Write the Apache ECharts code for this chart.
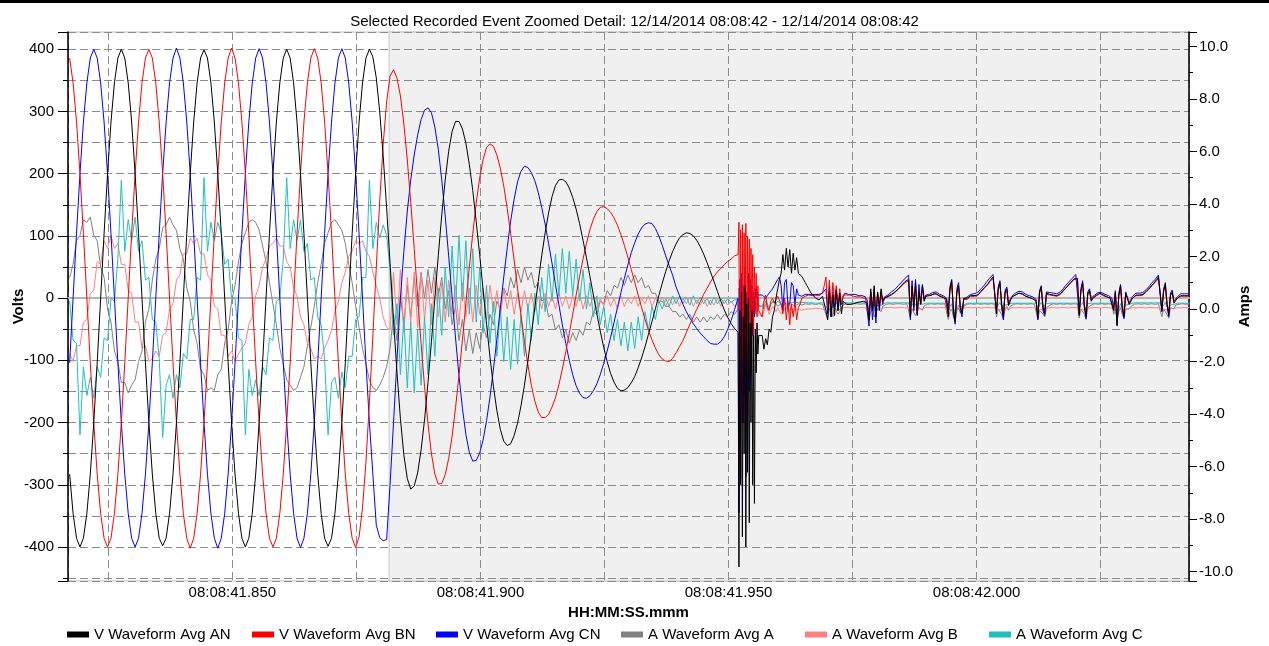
<!DOCTYPE html>
<html><head><meta charset="utf-8">
<script src="https://cdn.jsdelivr.net/npm/echarts@6/dist/echarts.min.js"></script>
<style>html,body{margin:0;padding:0;background:#fff}#chart{width:1269px;height:646px}</style>
</head><body><div id="chart"></div>
<script>
const titleText = 'Selected Recorded Event Zoomed Detail: 12/14/2014 08:08:42 - 12/14/2014 08:08:42';
const seriesNames = ['V Waveform Avg AN','V Waveform Avg BN','V Waveform Avg CN','A Waveform Avg A','A Waveform Avg B','A Waveform Avg C'];
// sample times: ms after 08:08:41.800; first sample, then [count, step ms] runs
const sampleStartMs = 17.21;
const stepPlan = [[194, 0.6944], [24, 0.1736], [1, 0.6944], [248, 0.3472]];
const axisMinMs = 16.88, axisMaxMs = 242.8;
const shadeStartMs = 81.6;
const voltsMin = -454.7, voltsMax = 427.8;
const ampsMin = -10.36, ampsMax = 10.55;

const vAN = [-283,-346,-386,-400,-386,-346,-283,-200,-104,0,104,200,283,346,386,400,386,346,283,200,104,0,-104,-200,
-283,-346,-386,-398,-386,-346,-283,-200,-104,0,104,200,283,346,386,399,386,346,283,200,104,0,-104,-200,
-283,-346,-386,-400,-386,-346,-283,-200,-104,0,104,200,283,346,386,400,386,346,283,200,104,0,-104,-200,
-283,-346,-386,-399,-386,-346,-283,-200,-104,0,104,200,283,346,386,400,
388,354,299,229,145,56,-35,-119,-194,-252,-290,-307,
-302,-281,-244,-196,-136,-70,0,69,134,190,236,268,284,
284,272,249,215,173,123,70,13,-42,-95,-142,-181,-211,-230,-237,
-234,-221,-201,-173,-140,-101,-59,-16,27,68,105,137,163,181,190,
191,187,177,162,143,120,93,65,35,5,-25,-53,-79,-102,-121,-135,-145,-149,
-148,-144,-136,-126,-112,-96,-78,-58,-38,-17,4,24,43,60,75,87,97,102,105,
104,100,93,83,71,57,42,27,11,-5,-19,-31,-41,-49,
-55,-432,-20,-300,10,-384,-30,-250,20,-400,-10,-280,0,-361,-40,-200,-20,-300,-60,-330,-50,-120,-40,-90,-60,
-60,-82,-65,-75,-50,-55,-30,-20,0,15,30,40,70,45,80,50,78,40,72,45,65,40,38,35,30,25,20,15,10,6,3,0,-2,-3,0,3,5,
-20,-35,10,-30,5,-28,12,-20,8,-25,-5,-8,
-10,-9,-10,-8,-9,-8,-7,-8,-6,-6,-5,-5,-8,
-35,15,-20,20,-30,10,-15,15,-5,0,
2,3,5,6,8,10,12,15,18,21,24,27,29,30,
-30,20,-15,25,-28,10,-10,20,-5,3,
5,4,3,6,8,7,4,3,2,1,0,-2,
-30,15,28,-20,-38,10,20,-15,-25,0,
-3,0,2,4,5,4,3,5,8,11,14,17,20,23,27,30,34,32,
-25,15,25,-10,-30,10,15,-12,-5,2,
3,5,6,8,9,7,5,3,2,1,0,-1,-3,-5,
-32,10,18,-15,-25,8,5,6,
8,5,3,4,5,7,10,13,16,19,22,25,28,31,34,32,
-28,12,25,-12,-30,8,12,-5,
0,2,4,6,8,6,5,3,2,1,0,-3,
-20,10,-43,5,20,-15,-30,8,10,-10,-8,0,
3,5,6,5,4,6,8,11,14,17,20,23,26,30,34,32,
-20,12,22,-10,-27,5,10,-8,-5,0,
2,4,5,4,3,4,5];

const vBN = [386,346,283,200,104,0,-104,-200,-283,-346,-386,-400,-386,-346,-283,-200,-104,0,104,200,283,346,386,400,
386,346,283,200,104,0,-104,-200,-283,-346,-386,-402,-386,-346,-283,-200,-104,0,104,200,283,346,386,402,
386,346,283,200,104,0,-104,-200,-283,-346,-386,-400,-386,-346,-283,-200,-104,0,104,200,283,346,386,401,
386,346,283,200,104,0,-104,-200,-283,-346,-386,-401,
-384,-337,-263,-168,-61,50,156,247,316,357,
367,354,325,280,222,154,80,3,-73,-142,-202,-250,-283,-299,
-298,-284,-258,-222,-176,-124,-67,-8,50,104,153,193,223,242,
248,244,230,209,180,144,104,61,16,-28,-70,-107,-140,-165,-183,-192,
-192,-187,-175,-160,-139,-114,-86,-57,-26,5,35,63,88,110,127,139,146,
147,144,138,129,117,102,85,66,46,26,5,-15,-34,-52,-67,-80,-91,-98,-101,
-102,-97,-88,-78,-68,-55,-42,-30,-18,-6,6,16,26,35,42,48,54,59,63,68,
70,122,-280,110,-150,118,-200,105,-100,120,-180,100,-60,95,-120,80,-40,70,-60,50,-20,40,-30,20,-20,
-30,-5,5,-15,-20,-5,0,-8,-5,3,5,-10,-25,0,-35,-5,-43,-10,-30,-5,-35,-15,-10,0,2,3,4,5,5,4,5,4,5,4,3,8,20,
34,-15,29,-19,25,-5,20,-10,15,-8,5,8,
5,3,5,4,3,5,2,3,2,1,0,0,-2,
-30,10,-15,15,-25,8,-12,10,-8,0,
0,2,4,5,7,9,11,14,17,20,23,25,28,28,
-25,15,-12,20,-22,8,-8,15,-3,2,
6,5,4,5,8,6,5,3,3,2,0,-1,
-25,12,22,-15,-30,8,18,-12,-20,-2,
-5,-2,0,3,4,3,3,4,7,10,13,16,19,22,26,29,32,30,
-20,12,22,-8,-25,8,12,-10,-3,2,
4,5,7,8,8,6,4,3,2,1,0,-1,-2,-4,
-28,8,15,-12,-20,6,3,5,
6,4,2,3,4,6,9,12,15,18,21,24,27,30,32,30,
-25,10,22,-10,-25,6,10,-3,
2,3,5,7,7,5,4,3,2,1,0,-2,
-18,8,-38,4,18,-12,-25,6,8,-6,-6,0,
2,4,5,4,3,5,7,10,13,16,19,22,25,28,32,30,
-18,10,20,-8,-22,4,8,-5,-3,0,
2,3,4,3,3,3,4];

const vCN = [-104,0,104,200,283,346,386,400,386,346,283,200,104,0,-104,-200,-283,-346,-386,-400,-386,-346,-283,-200,
-104,0,104,200,283,346,386,402,386,346,283,200,104,0,-104,-200,-283,-346,-386,-402,-386,-346,-283,-200,
-104,0,104,200,283,346,386,401,386,346,283,200,104,0,-104,-200,-283,-346,-386,-401,-386,-346,-283,-200,
-104,0,104,200,283,346,386,401,386,346,283,200,104,0,-104,-200,-283,
-365,-385,-390,-388,
-300,-200,-100,0,75,140,190,230,262,287,302,306,
298,275,239,190,132,68,2,-64,-125,-177,-219,-248,-262,
-261,-249,-228,-197,-159,-114,-66,-16,34,81,124,159,187,204,212,
210,202,189,170,146,119,88,56,22,-11,-43,-73,-100,-123,-141,-153,-160,
-161,-157,-149,-138,-123,-105,-85,-63,-39,-15,9,32,53,73,89,103,113,119,121,
120,112,100,85,68,52,37,18,4,-10,-22,-32,-41,-49,-56,-62,-68,-73,-74,-74,-70,-62,-50,-36,-18,
0,-345,30,-290,40,-200,20,-100,50,-287,10,-250,40,-150,30,-100,20,-60,10,-30,15,0,10,5,5,
5,2,0,4,8,10,15,20,25,30,34,20,-20,25,30,-15,-10,25,20,-10,15,5,5,3,5,6,5,6,5,6,5,6,7,6,7,8,10,
15,-25,20,-30,10,-15,15,-20,5,-10,2,8,
8,6,7,6,5,6,5,4,5,4,3,2,0,
-45,10,-35,5,-40,8,-20,10,-10,2,
3,5,8,10,12,14,17,20,23,26,29,32,35,37,
-35,28,-20,30,-25,22,-10,22,0,5,
8,6,6,9,11,10,7,6,5,4,2,0,
-20,18,30,-25,-42,15,25,-20,-30,-2,
-2,2,4,6,8,7,7,9,12,15,18,21,25,28,32,35,38,36,
-22,18,28,-15,-35,12,18,-10,-2,3,
6,8,9,11,12,10,8,6,5,4,3,2,0,-2,
-35,12,20,-20,-28,10,8,9,
10,8,6,7,8,10,13,16,20,23,26,29,32,35,38,36,
-25,15,28,-15,-33,10,15,0,
3,5,7,9,11,9,8,6,5,4,3,0,
-15,12,-45,8,22,-18,-33,10,12,-8,-5,3,
6,8,9,8,7,9,11,14,17,20,24,27,30,33,37,35,
-22,14,25,-12,-30,8,13,-5,-3,2,
5,7,8,7,6,7,8];

const aA = [1.2,1.7,2.6,2.8,3.4,3.3,3.5,2.8,2.6,1.6,1.2,0.0,-0.5,-1.6,-2.0,-2.8,-2.8,-3.2,-2.9,-2.7,-2.0,-1.6,-0.5,0.0,
1.1,1.9,2.3,3.1,3.2,3.5,3.2,3.0,2.3,1.9,0.8,0.3,-0.8,-1.3,-2.3,-2.5,-3.1,-3.0,-3.1,-2.5,-2.3,-1.3,-0.8,0.3,
0.9,1.8,2.5,2.9,3.3,3.4,3.3,3.0,2.4,1.8,1.0,0.2,-0.6,-1.5,-2.1,-2.7,-2.9,-3.1,-3.0,-2.6,-2.2,-1.4,-0.7,0.1,
1.0,1.7,2.5,2.9,3.3,3.4,3.2,3.0,2.5,1.7,1.0,0.1,-0.7,-1.5,-2.1,-2.7,-3.0,-3.1,-2.9,-2.6,-2.2,
-1.5,-0.2,-1.2,0.5,-0.6,0.9,-0.3,
1.2,0.1,1.4,0.4,1.5,0.6,1.6,0.5,1.2,0.0,
0.7,-0.6,0.1,-1.2,-0.4,-1.6,-0.8,-1.7,-0.9,-1.5,
-0.6,-1.1,-0.2,-0.6,0.3,0.0,0.8,0.5,1.2,0.8,
1.5,1.0,1.6,1.1,1.4,0.8,1.0,0.3,0.4,-0.3,
-0.2,-0.8,-0.6,-1.1,-0.8,-1.3,-0.9,-1.2,-0.8,-1.0,
-0.5,-0.6,-0.1,-0.2,0.3,0.2,0.7,0.5,0.9,0.8,
1.2,0.9,1.3,1.0,1.3,1.0,1.2,0.8,0.9,0.6,
0.6,0.3,0.3,0.1,0.1,-0.1,-0.1,-0.3,-0.2,-0.4,
-0.2,-0.5,-0.3,-0.5,-0.3,-0.5,-0.3,-0.4,-0.2,-0.4,
-0.2,-0.3,-0.1,-0.2,
0.0,0.8,-1.0,0.6,-1.2,0.5,-0.8,0.7,-0.9,0.4,-0.6,0.5,-0.7,0.3,-0.5,0.4,-0.4,0.3,-0.3,0.25,-0.2,0.2,-0.1,0.15,0.1,
0.1,0.0,0.3,0.1,0.0,0.2,0.2,0.3,0.25,0.1,0.15,0.2,0.0,0.25,0.3,0.1,-0.1,0.2,0.2,0.1,0.1,0.2,0.2,0.15,0.15,0.2,0.2,0.18,0.18,0.2,0.2,0.17,0.17,0.2,0.2,0.18,0.18,
-0.2,-0.4,0.0,0.1,-0.3,0.05,0.0,-0.2,-0.1,0.05,0.15,0.18,
0.2,0.18,0.18,0.2,0.2,0.18,0.2,0.18,0.18,0.2,0.2,0.18,0.18,
-0.45,-0.1,0.0,-0.3,-0.35,0.0,0.05,-0.1,0.1,0.15,
0.18,0.2,0.2,0.18,0.18,0.2,0.2,0.2,0.2,0.18,0.18,0.2,0.2,0.18,
-0.35,0.0,0.05,-0.25,-0.3,0.05,0.1,-0.05,0.12,0.15,
0.18,0.2,0.2,0.18,0.18,0.2,0.2,0.18,0.18,0.2,0.2,0.18,
-0.4,-0.1,0.0,-0.3,-0.45,-0.05,0.05,-0.15,-0.2,0.1,
0.15,0.18,0.18,0.2,0.2,0.18,0.18,0.2,0.2,0.18,0.18,0.2,0.2,0.18,0.18,0.2,0.2,0.18,
-0.3,0.0,0.05,-0.2,-0.4,0.0,0.1,-0.05,0.1,0.15,
0.18,0.2,0.2,0.18,0.18,0.2,0.2,0.18,0.18,0.2,0.2,0.18,0.18,0.2,
-0.4,-0.05,0.0,-0.2,-0.3,0.05,0.1,0.15,
0.18,0.2,0.2,0.18,0.18,0.2,0.2,0.18,0.18,0.2,0.2,0.18,0.18,0.2,0.2,0.18,
-0.35,0.0,0.05,-0.2,-0.4,0.05,0.1,0.15,
0.18,0.2,0.2,0.18,0.18,0.2,0.2,0.18,0.18,0.2,0.2,0.18,
-0.2,0.0,-0.45,-0.1,0.05,-0.2,-0.35,0.0,0.05,0.0,0.1,0.15,
0.18,0.2,0.2,0.18,0.18,0.2,0.2,0.18,0.18,0.2,0.2,0.18,0.18,0.2,0.2,0.18,
-0.3,0.0,0.05,-0.2,-0.35,0.05,0.1,0.0,0.15,0.18,
0.18,0.2,0.2,0.18,0.18,0.2,0.2];

const aB = [-1.7,-2.0,-1.4,-1.4,-0.5,-0.4,0.6,0.7,1.8,1.7,2.6,2.3,2.8,2.3,2.5,1.7,1.7,0.7,0.6,-0.5,-0.5,-1.5,-1.4,-2.0,
-1.9,-1.6,-1.8,-1.0,-0.9,0.0,0.2,1.1,1.3,2.1,2.1,2.7,2.5,2.7,2.1,2.1,1.3,1.1,0.1,0.0,-1.0,-1.0,-1.8,-1.6,
-2.0,-1.7,-1.5,-1.3,-0.6,-0.3,0.5,0.9,1.6,1.9,2.4,2.5,2.7,2.4,2.4,1.8,1.6,0.8,0.5,-0.3,-0.6,-1.3,-1.5,-1.9,
-1.8,-1.9,-1.5,-1.2,-0.8,-0.1,0.3,1.0,1.4,2.0,2.2,2.6,2.5,2.6,2.2,2.0,1.4,0.9,0.4,-0.3,-0.7,
-0.8,1.4,-0.6,1.5,-0.9,1.2,-0.5,
1.4,-0.7,1.3,-0.4,1.1,-0.6,1.2,-0.3,1.0,-0.5,
1.1,-0.2,0.9,-0.6,1.0,-0.3,0.8,-0.5,0.9,-0.2,
0.8,-0.4,0.9,-0.1,0.7,-0.3,0.8,0.0,0.7,-0.2,
0.6,-0.1,0.7,0.0,0.6,-0.1,0.5,0.0,0.6,0.1,
0.5,0.0,0.6,0.1,0.5,0.0,0.5,0.1,0.6,0.0,
0.5,0.1,0.5,0.0,0.4,0.1,0.5,0.1,0.4,0.0,
0.5,0.1,0.4,0.2,0.5,0.1,0.4,0.2,0.5,0.1,
0.4,0.2,0.45,0.1,0.4,0.15,0.45,0.1,0.4,0.2,
0.45,0.1,0.35,0.15,0.4,0.1,0.35,0.15,0.4,0.1,
0.35,0.15,0.3,0.1,
0.2,0.6,-0.4,0.5,-0.3,0.5,-0.4,0.4,-0.2,0.4,-0.3,0.3,-0.2,0.3,-0.1,0.25,-0.15,0.2,-0.1,0.2,-0.05,0.1,-0.1,0.1,-0.2,
-0.3,-0.1,0.2,0.0,-0.2,-0.05,0.1,0.0,-0.1,0.05,0.0,-0.2,-0.25,0.0,0.1,-0.1,-0.2,0.0,0.05,-0.05,-0.1,0.0,0.0,-0.05,-0.05,0.0,0.05,0.0,-0.05,0.0,0.0,0.03,0.05,0.02,-0.02,0.0,0.03,
-0.1,-0.05,0.1,0.0,-0.15,0.0,0.05,-0.05,-0.05,0.02,0.05,0.06,
0.04,0.05,0.06,0.05,0.04,0.05,0.06,0.04,0.05,0.06,0.05,0.04,0.05,
-0.15,0.0,0.05,-0.05,-0.1,0.02,0.04,0.0,0.02,0.05,
0.05,0.06,0.04,0.06,0.05,0.04,0.06,0.05,0.04,0.06,0.05,0.04,0.06,0.05,
-0.1,0.0,0.06,-0.04,-0.08,0.02,0.05,0.0,0.03,0.05,
0.05,0.06,0.04,0.05,0.06,0.04,0.05,0.06,0.04,0.05,0.06,0.04,
-0.12,0.0,0.04,-0.08,-0.15,0.0,0.06,-0.02,-0.05,0.03,
0.05,0.06,0.04,0.05,0.06,0.05,0.04,0.06,0.05,0.04,0.06,0.05,0.04,0.06,0.05,0.04,0.06,0.05,
-0.08,0.0,0.05,-0.05,-0.12,0.02,0.06,0.0,0.03,0.05,
0.06,0.04,0.05,0.06,0.04,0.05,0.06,0.04,0.05,0.06,0.04,0.05,0.06,0.04,
-0.12,0.0,0.04,-0.05,-0.1,0.02,0.05,0.05,
0.04,0.06,0.05,0.04,0.06,0.05,0.04,0.06,0.05,0.04,0.06,0.05,0.04,0.06,0.05,0.04,
-0.1,0.0,0.05,-0.05,-0.12,0.02,0.06,0.04,
0.05,0.06,0.04,0.05,0.06,0.04,0.05,0.06,0.04,0.05,0.06,0.04,
-0.05,0.0,-0.15,0.0,0.04,-0.04,-0.1,0.0,0.05,0.02,0.03,0.05,
0.06,0.04,0.05,0.06,0.04,0.05,0.06,0.04,0.05,0.06,0.04,0.05,0.06,0.04,0.05,0.06,
-0.08,0.0,0.05,-0.04,-0.1,0.02,0.06,0.03,0.04,0.05,
0.06,0.04,0.05,0.06,0.04,0.05,0.06];

const aC = [0.3,-1.2,-1.3,-4.8,-2.2,-3.3,-2.6,-3.4,-2.2,-2.6,-1.1,-1.2,0.4,0.3,1.9,4.9,2.2,3.4,2.6,3.5,2.2,2.6,1.1,1.2,
-0.4,-0.5,-1.9,-4.9,-2.9,-2.5,-3.4,-2.5,-3.0,-1.7,-1.9,-0.4,-0.4,1.2,1.1,5.0,2.2,3.3,2.6,3.3,2.9,1.7,1.9,0.4,
0.4,-1.1,-1.2,-4.8,-2.3,-3.3,-2.7,-3.3,-2.2,-2.5,-1.1,-1.2,0.3,0.4,1.9,5.0,2.3,3.4,2.6,3.4,2.2,2.5,1.1,1.2,
-0.3,-0.6,-1.9,-4.8,-2.8,-2.6,-3.4,-2.4,-3.0,-1.8,-1.8,-0.4,-0.3,1.2,1.2,4.9,2.3,3.3,2.7,3.2,2.8,
1.5,-1.0,0.2,-2.5,-0.3,-3.0,-0.5,
-3.2,-0.8,-2.9,-0.3,-2.5,0.2,-1.8,0.8,-1.0,1.6,
-0.3,2.4,0.0,2.8,0.3,2.6,-0.2,2.3,-0.5,1.6,
-0.9,0.9,-1.3,0.3,-1.8,0.0,-2.0,-0.3,-2.3,-0.4,
-2.1,-0.2,-1.8,0.2,-1.2,0.6,-0.6,1.2,-0.1,1.7,
0.3,2.1,0.5,2.3,0.6,2.2,0.5,1.9,0.3,1.5,
0.0,1.0,-0.3,0.5,-0.6,0.1,-0.9,-0.2,-1.2,-0.4,
-1.4,-0.5,-1.6,-0.5,-1.5,-0.3,-1.2,-0.1,-0.8,0.1,
-0.4,0.3,0.0,0.4,0.1,0.5,0.2,0.5,0.2,0.45,
0.15,0.5,0.2,0.45,0.2,0.4,0.15,0.45,0.2,0.4,
0.2,0.4,0.25,0.35,
0.35,0.6,-0.3,0.5,-0.2,0.5,-0.1,0.4,-0.2,0.4,0.0,0.35,0.0,0.3,0.05,0.3,0.1,0.3,0.1,0.3,0.1,0.25,0.15,0.25,0.1,
0.1,0.3,0.4,0.2,0.0,0.15,0.3,0.25,0.2,0.3,0.35,0.2,0.1,0.25,0.3,0.2,0.15,0.25,0.3,0.25,0.2,0.25,0.28,0.25,0.22,0.24,0.25,0.23,0.22,0.24,0.25,0.22,0.24,0.23,0.25,0.24,0.23,
0.05,0.0,0.2,0.3,0.05,0.15,0.25,0.1,0.15,0.2,0.22,0.24,
0.22,0.23,0.22,0.24,0.22,0.23,0.22,0.24,0.22,0.23,0.22,0.24,0.22,
0.0,0.1,0.25,0.15,0.05,0.15,0.2,0.15,0.2,0.22,
0.22,0.24,0.22,0.23,0.22,0.24,0.22,0.23,0.22,0.24,0.22,0.23,0.22,0.24,
0.05,0.15,0.25,0.15,0.1,0.2,0.22,0.18,0.2,0.22,
0.23,0.22,0.24,0.22,0.23,0.22,0.24,0.22,0.23,0.22,0.24,0.22,
-0.1,0.1,0.2,-0.2,-0.44,0.0,0.15,0.05,0.0,0.15,
0.2,0.22,0.24,0.22,0.23,0.22,0.24,0.22,0.23,0.22,0.24,0.22,0.23,0.22,0.24,0.22,0.23,0.22,
0.05,0.15,0.25,0.1,0.0,0.15,0.22,0.18,0.2,0.22,
0.23,0.22,0.24,0.22,0.23,0.22,0.24,0.22,0.23,0.22,0.24,0.22,0.23,0.22,
0.0,0.15,0.25,0.1,0.05,0.2,0.22,0.22,
0.24,0.22,0.23,0.22,0.24,0.22,0.23,0.22,0.24,0.22,0.23,0.22,0.24,0.22,0.23,0.22,
0.05,0.15,0.25,0.1,0.0,0.2,0.22,0.22,
0.23,0.22,0.24,0.22,0.23,0.22,0.24,0.22,0.23,0.22,0.24,0.22,
0.1,0.05,-0.3,0.0,0.2,0.05,0.0,0.15,0.2,0.18,0.2,0.22,
0.22,0.24,0.22,0.23,0.22,0.24,0.22,0.23,0.22,0.24,0.22,0.23,0.22,0.24,0.22,0.23,
0.05,0.15,0.25,0.1,0.0,0.15,0.2,0.18,0.2,0.22,
0.23,0.22,0.24,0.22,0.23,0.22,0.24];

const sampleTimes = (function () {
  const t = [sampleStartMs];
  stepPlan.forEach(([count, step]) => { for (let k = 0; k < count; k++) t.push(t[t.length - 1] + step); });
  return t;
})();
function toPairs(arr) { return arr.map((v, j) => [sampleTimes[j], v]); }
function isMult(v, m) { return Math.abs(v / m - Math.round(v / m)) < 1e-6; }
function fmtTime(ms) {
  if (!isMult(ms, 50)) return '';
  const s = 41.8 + ms / 1000;
  return '08:08:' + (s < 10 ? '0' : '') + s.toFixed(3);
}
const FONT = 'Liberation Sans, Arial, sans-serif';
const FS = 15;
const gridLine = { show: true, lineStyle: { color: '#8c8c8c', type: [8, 4], width: 1 } };
const nameStyle = { fontSize: FS, fontWeight: 'bold', color: '#000', fontFamily: FONT };

const defs = [
  { data: vAN, color: '#000000', y: 0, z: 6 },
  { data: vBN, color: '#ff0000', y: 0, z: 5 },
  { data: vCN, color: '#0000ff', y: 0, z: 4 },
  { data: aA, color: '#808080', y: 2, z: 3 },
  { data: aB, color: '#ff8080', y: 2, z: 3 },
  { data: aC, color: '#20c0c0', y: 2, z: 3 }
];
const legendLefts = [67, 252, 436, 621, 805, 989];

const chart = echarts.init(document.getElementById('chart'), null, { renderer: 'canvas' });
chart.setOption({
  animation: false,
  textStyle: { fontFamily: FONT },
  title: { text: titleText, left: 'center', top: 9, textStyle: { fontSize: FS, fontWeight: 'normal', color: '#000', fontFamily: FONT } },
  graphic: [{ type: 'rect', left: 0, top: 0, shape: { width: 1269, height: 3 }, style: { fill: '#000' }, silent: true }],
  grid: { left: 68, right: 80, top: 32, bottom: 65, show: true, borderColor: '#c0c0c0', borderWidth: 1, backgroundColor: 'transparent', outerBoundsMode: 'none', containLabel: false },
  legend: seriesNames.map((n, k) => ({
    data: [n], left: legendLefts[k], top: 627, icon: 'rect', itemWidth: 22, itemHeight: 6, padding: 0,
    textStyle: { fontSize: FS, color: '#000', fontFamily: FONT }
  })),
  xAxis: {
    type: 'value', min: axisMinMs, max: axisMaxMs, minInterval: 25, maxInterval: 25, z: 2,
    name: 'HH:MM:SS.mmm', nameLocation: 'middle', nameGap: 24, nameMoveOverlap: false, nameTextStyle: nameStyle,
    axisLine: { show: true, lineStyle: { color: '#b4b4b4', width: 2 } },
    axisTick: { show: false },
    axisLabel: { fontSize: FS, color: '#000', margin: 4, formatter: fmtTime },
    splitLine: gridLine
  },
  yAxis: [
    { type: 'value', position: 'left', min: voltsMin, max: voltsMax, minInterval: 100, maxInterval: 100, z: 2,
      name: 'Volts', nameLocation: 'middle', nameGap: 42, nameRotate: 90, nameMoveOverlap: false, nameTextStyle: nameStyle,
      axisLine: { show: true, lineStyle: { color: '#000', width: 1.5 } },
      axisTick: { show: true, length: 10, lineStyle: { color: '#000' } },
      axisLabel: { fontSize: FS, color: '#000', margin: 14, formatter: v => (isMult(v, 100) && Math.abs(v) <= 400.001) ? String(Math.round(v)) : '' },
      splitLine: { show: false } },
    { type: 'value', position: 'left', min: voltsMin, max: voltsMax, minInterval: 50, maxInterval: 50, z: 2,
      axisLine: { show: false }, axisTick: { show: true, length: 5, lineStyle: { color: '#000' } },
      axisLabel: { show: false }, splitLine: gridLine },
    { type: 'value', position: 'right', min: ampsMin, max: ampsMax, minInterval: 2, maxInterval: 2, z: 2,
      name: 'Amps', nameLocation: 'middle', nameGap: 48, nameRotate: 90, nameMoveOverlap: false, nameTextStyle: nameStyle,
      axisLine: { show: true, lineStyle: { color: '#000', width: 1.5 } },
      axisTick: { show: true, length: 8, lineStyle: { color: '#000' } },
      axisLabel: { fontSize: FS, color: '#000', margin: 10, formatter: v => isMult(v, 2) ? v.toFixed(1) : '' },
      splitLine: { show: false } },
    { type: 'value', position: 'right', min: ampsMin, max: ampsMax, minInterval: 1, maxInterval: 1, z: 2,
      axisLine: { show: false }, axisTick: { show: true, length: 4, lineStyle: { color: '#000' } },
      axisLabel: { show: false }, splitLine: { show: false } }
  ],
  series: [
    { name: 'shade', type: 'line', xAxisIndex: 0, yAxisIndex: 0, data: [[shadeStartMs, 0]], symbol: 'none', lineStyle: { width: 0 }, z: 0, silent: true,
      markArea: { silent: true, z: 0, itemStyle: { color: '#f0f0f0', borderColor: '#c4c4c4', borderWidth: 1 }, data: [[{ xAxis: shadeStartMs }, { xAxis: axisMaxMs }]] } }
  ].concat(defs.map((d, k) => ({
    name: seriesNames[k], type: 'line', xAxisIndex: 0, yAxisIndex: d.y, data: toPairs(d.data),
    symbol: 'none', showSymbol: false, z: d.z, silent: true,
    lineStyle: { width: 1, color: d.color }, itemStyle: { color: d.color }
  })))
});
</script></body></html>
